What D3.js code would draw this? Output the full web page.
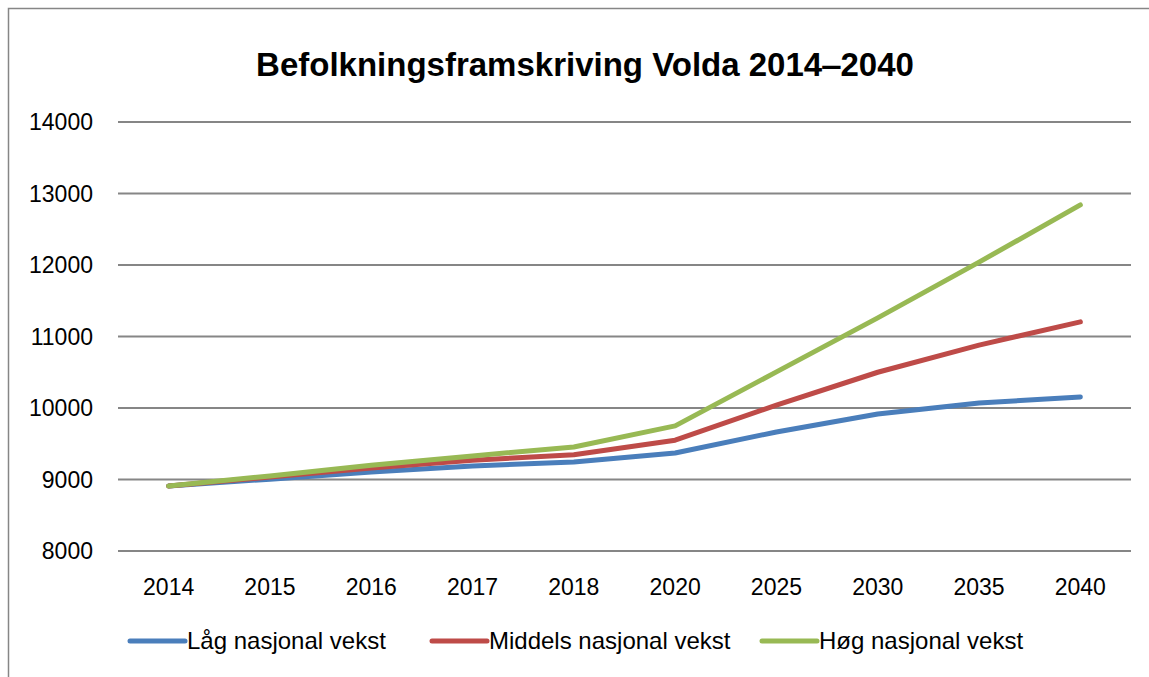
<!DOCTYPE html>
<html>
<head>
<meta charset="utf-8">
<script src="https://cdn.jsdelivr.net/npm/d3@7"></script>
<style>
  body { margin: 0; background: #fff; }
  text { font-family: "Liberation Sans Narrow", "Liberation Sans", Arial, sans-serif; fill: #000; }
</style>
</head>
<body>
<div id="chart"></div>
<script>
const width = 1149;
const height = 677;

const years = ["2014", "2015", "2016", "2017", "2018", "2020", "2025", "2030", "2035", "2040"];
const lag = [8910, 9005, 9105, 9190, 9245, 9370, 9665, 9915, 10070, 10155];
const middels = [8910, 9035, 9160, 9270, 9345, 9550, 10040, 10500, 10880, 11205];
const hog = [8910, 9050, 9200, 9330, 9455, 9750, 10505, 11260, 12040, 12840];
const yTicks = [8000, 9000, 10000, 11000, 12000, 13000, 14000];

const series = [
  { name: "Låg nasjonal vekst", values: lag, color: "#4a7ebb" },
  { name: "Middels nasjonal vekst", values: middels, color: "#be4b48" },
  { name: "Høg nasjonal vekst", values: hog, color: "#98b954" }
];

const margin = { left: 118, right: 18, top: 122, bottom: 126 };

const svg = d3.select("#chart").append("svg")
  .attr("width", width)
  .attr("height", height);

// outer frame (chart area border)
svg.append("path")
  .attr("d", `M8.5,${height} V8.5 H${width}`)
  .attr("fill", "none")
  .attr("stroke", "#868686")
  .attr("stroke-width", 1.5);

svg.append("text")
  .attr("x", 585)
  .attr("y", 76)
  .attr("text-anchor", "middle")
  .attr("font-size", 33)
  .attr("font-weight", "bold")
  .text("Befolkningsframskriving Volda 2014\u20122040");

const x = d3.scaleBand()
  .domain(years)
  .range([margin.left, width - margin.right]);

const y = d3.scaleLinear()
  .domain([8000, 14000])
  .range([height - margin.bottom, margin.top]);

// gridlines
svg.append("g")
  .selectAll("line")
  .data(yTicks)
  .join("line")
  .attr("x1", margin.left)
  .attr("x2", width - margin.right)
  .attr("y1", d => y(d))
  .attr("y2", d => y(d))
  .attr("stroke", "#868686")
  .attr("stroke-width", 2);

// y labels
svg.append("g")
  .selectAll("text")
  .data(yTicks)
  .join("text")
  .attr("x", 93)
  .attr("y", d => y(d) + 8)
  .attr("text-anchor", "end")
  .attr("font-size", 23)
  .text(d => d);

// x labels
svg.append("g")
  .selectAll("text")
  .data(years)
  .join("text")
  .attr("x", d => x(d) + x.bandwidth() / 2)
  .attr("y", 595)
  .attr("text-anchor", "middle")
  .attr("font-size", 23)
  .text(d => d);

const line = d3.line()
  .x((d, i) => x(years[i]) + x.bandwidth() / 2)
  .y(d => y(d));

svg.append("g")
  .selectAll("path")
  .data(series)
  .join("path")
  .attr("d", d => line(d.values))
  .attr("fill", "none")
  .attr("stroke", d => d.color)
  .attr("stroke-width", 5)
  .attr("stroke-linecap", "round")
  .attr("stroke-linejoin", "round");

// legend
const legendX = [130, 432, 762];
const legend = svg.append("g")
  .selectAll("g")
  .data(series)
  .join("g")
  .attr("transform", (d, i) => `translate(${legendX[i]},641)`);

legend.append("line")
  .attr("x1", 0)
  .attr("x2", 55)
  .attr("stroke", d => d.color)
  .attr("stroke-width", 5)
  .attr("stroke-linecap", "round");

legend.append("text")
  .attr("x", 57)
  .attr("y", 8)
  .attr("font-size", 24)
  .text(d => d.name);
</script>
</body>
</html>
